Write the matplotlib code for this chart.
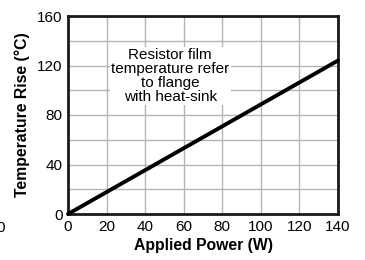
import matplotlib
matplotlib.use("Agg")
import matplotlib.pyplot as plt

plt.rcParams['font.family'] = ['Liberation Sans', 'DejaVu Sans']

# applied power (W) vs temperature rise (C)
power = [0, 140]
temp_rise = [0, 124]

x_ticks = [0, 20, 40, 60, 80, 100, 120, 140]
y_ticks = [0, 40, 80, 120, 160]
y_grid = [20, 60, 100, 140]

note = "Resistor film\ntemperature refer\nto flange\nwith heat-sink"

fig = plt.figure(figsize=(3.65, 2.6), dpi=100)
ax = fig.add_axes([68/365, 46/260, 270/365, 198/260])

ax.plot(power, temp_rise, color='black', lw=2.8, solid_capstyle='round', zorder=5, clip_on=False)

ax.set_xlim(0, 140)
ax.set_ylim(0, 160)
ax.set_xticks(x_ticks)
ax.set_yticks(y_ticks)
ax.set_yticks(y_grid, minor=True)
ax.grid(True, which='both', color='#b4b4b4', lw=1)
ax.set_axisbelow(True)
ax.tick_params(which='both', length=0, labelsize=11, pad=4)

for s in ax.spines.values():
    s.set_linewidth(2)
    s.set_color('#1a1a1a')

ax.set_xlabel("Applied Power (W)", fontsize=11.3, fontweight='bold', labelpad=3)
ax.set_ylabel("Temperature Rise (\u00b0C)", fontsize=11.3, fontweight='bold', labelpad=5)

ax.text(53, 111.5, note, ha='center', va='center', fontsize=11, linespacing=1.0,
        bbox=dict(facecolor='white', edgecolor='none', pad=1), zorder=4)

fig.text(-4/365, 1 - 228/260, "0", fontsize=11, ha='left', va='center')

fig.savefig("out.png", dpi=100)
